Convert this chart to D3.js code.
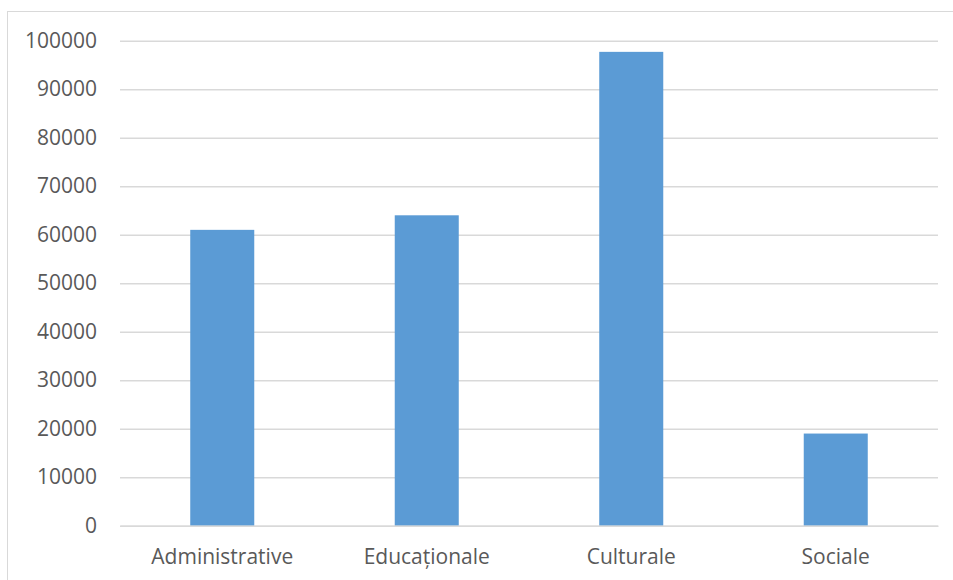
<!DOCTYPE html>
<html>
<head>
<meta charset="utf-8">
<script src="https://cdn.jsdelivr.net/npm/d3@7"></script>
<style>
  body { margin: 0; background: #fff; }
  svg { display: block; }
  text { font-family: "Open Sans", "Noto Sans", sans-serif; fill: #595959; }
</style>
</head>
<body>
<svg></svg>
<script>
// chart data
const categories = ['Administrative', 'Educaționale', 'Culturale', 'Sociale'];
const values = [61000, 64000, 97700, 19000];
const yTicks = [0, 10000, 20000, 30000, 40000, 50000, 60000, 70000, 80000, 90000, 100000];

const width = 953;
const height = 580;
const margin = { top: 40.7, right: 15, bottom: 54.3, left: 120 };

const svg = d3.select('svg').attr('width', width).attr('height', height);

// chart area border (runs off right / bottom like the screenshot)
svg.append('rect')
    .attr('x', 7.5).attr('y', 11.5)
    .attr('width', 1000).attr('height', 700)
    .attr('fill', 'none')
    .attr('stroke', '#d9d9d9')
    .attr('stroke-width', 1);

const x = d3.scaleBand()
    .domain(categories)
    .range([margin.left, width - margin.right])
    .paddingInner(0.687)
    .paddingOuter(0.3435);

const y = d3.scaleLinear()
    .domain([0, 100000])
    .range([height - margin.bottom, margin.top]);

// gridlines + y labels
const yAxis = svg.append('g')
    .attr('transform', `translate(${margin.left},0)`)
    .call(d3.axisLeft(y).tickValues(yTicks).tickSize(-(width - margin.right - margin.left)).tickPadding(23).tickFormat(d3.format('d')));

yAxis.select('.domain').remove();
yAxis.selectAll('.tick line').attr('stroke', '#d9d9d9').attr('stroke-width', 1.5);
yAxis.selectAll('.tick text').attr('font-size', 21).style('fill', '#595959');

// bars
svg.append('g')
    .selectAll('rect')
    .data(values)
    .join('rect')
        .attr('x', (d, i) => x(categories[i]))
        .attr('y', d => y(d))
        .attr('width', x.bandwidth())
        .attr('height', d => y(0) - y(d))
        .attr('fill', '#5b9bd5');

// x axis labels
const xAxis = svg.append('g')
    .attr('transform', `translate(0,${y(0)})`)
    .call(d3.axisBottom(x).tickSize(0).tickPadding(23));

xAxis.select('.domain').attr('stroke', '#d9d9d9').attr('stroke-width', 1.5);
xAxis.selectAll('.tick text').attr('font-size', 21).style('fill', '#595959');
</script>
</body>
</html>
